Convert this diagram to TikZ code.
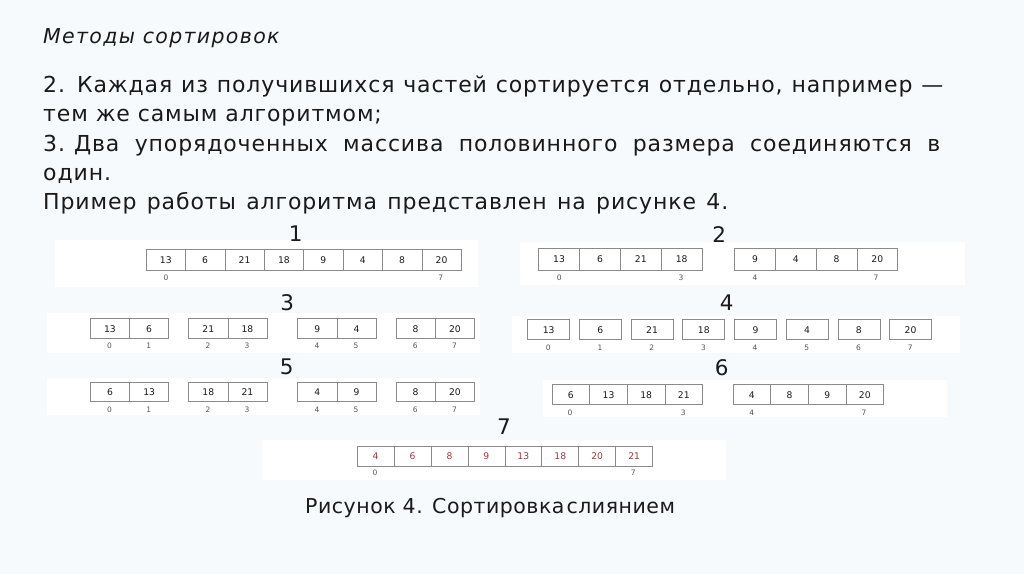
\documentclass[tikz,border=0pt]{standalone}
\usepackage{fontspec}
\setmainfont{DejaVu Sans}
\newfontfamily\bodyfont[LetterSpace=4.0]{DejaVu Sans}
\newfontfamily\titlefont[LetterSpace=6.5]{DejaVu Sans Oblique}
\newfontfamily\capfont[LetterSpace=2.5]{DejaVu Sans}
\definecolor{bg}{HTML}{F7FAFC}
\definecolor{cellgray}{HTML}{8A8A8A}
\definecolor{idxgray}{HTML}{555555}
\definecolor{redval}{HTML}{A8333F}
\definecolor{txt}{HTML}{1A1A1A}
\begin{document}
\begin{tikzpicture}[x=1pt,y=-1pt,
  cellbox/.style={draw=cellgray, line width=0.7pt, inner sep=0pt, anchor=north west,
    fill=white, text=txt, font=\fontsize{9.2}{10}\selectfont},
  idx/.style={font=\fontsize{7.5}{8}\selectfont, text=idxgray, inner sep=0pt, anchor=base},
  panel/.style={fill=white, draw=none},
  steplabel/.style={font=\fontsize{21.5}{24}\selectfont, text=txt, inner sep=0pt, anchor=base},
  bodyline/.style={font=\bodyfont\fontsize{22}{26}\selectfont, text=txt, inner sep=0pt, anchor=base west}]
\useasboundingbox (0,0) rectangle (1024,574);
\fill[bg] (0,0) rectangle (1024,574);

% text
\node[bodyline, font=\titlefont\fontsize{20.5}{24}\selectfont] (title) at (43,43.3) {Методы сортировок};
\node[bodyline] (l1) at (43,92.7) {\makebox[900pt][s]{2.\kern12pt Каждая из получившихся частей сортируется отдельно, например —}};
\node[bodyline] (l2) at (43,121.5) {тем же самым алгоритмом;};
\node[bodyline] (l3) at (43,151.5) {\makebox[897pt][s]{3.\kern9pt Два упорядоченных массива половинного размера соединяются в}};
\node[bodyline] (l4) at (43,180) {один.};
\node[bodyline] (l5) at (43,209.3) {\makebox[685pt][s]{Пример работы алгоритма представлен на рисунке 4.}};

% panels
\fill[panel] (55,240) rectangle (478,287);
\fill[panel] (520,241.7) rectangle (965,285);
\fill[panel] (46.7,312.7) rectangle (480,353);
\fill[panel] (512,316) rectangle (960,353.3);
\fill[panel] (46.7,378) rectangle (480,415);
\fill[panel] (543,380) rectangle (947,416.7);
\fill[panel] (261.7,440) rectangle (726,480);

% step labels
\node[steplabel] (s1) at (295.7,241.7) {1};
\node[steplabel] (s2) at (719.3,242.5) {2};
\node[steplabel] (s3) at (287.3,310) {3};
\node[steplabel] (s4) at (726.7,310) {4};
\node[steplabel] (s5) at (286.7,374) {5};
\node[steplabel] (s6) at (721.7,375.5) {6};
\node[steplabel] (s7) at (504,434) {7};

% row 1
\foreach \v [count=\i from 0] in {13,6,21,18,9,4,8,20}
  \node[cellbox, minimum width=39.4pt, minimum height=21pt] (a\i) at (145.7+\i*39.4,249.3) {\v};
\node[idx] (a1i0) at (166,280) {0};
\node[idx] (a1i7) at (440.7,280) {7};

% row 2
\foreach \v [count=\i from 0] in {13,6,21,18}
  \node[cellbox, minimum width=40.85pt, minimum height=22pt] (b\i) at (538.3+\i*40.85,248) {\v};
\foreach \v [count=\i from 0] in {9,4,8,20}
  \node[cellbox, minimum width=40.75pt, minimum height=22pt] (bb\i) at (734.3+\i*40.75,248) {\v};
\node[idx] (b2i0) at (559.3,280.3) {0};
\node[idx] (b2i3) at (681,280.3) {3};
\node[idx] (b2i4) at (755,280.3) {4};
\node[idx] (b2i7) at (876,280.3) {7};

% row 3
\foreach \x/\p/\q/\k [count=\j from 0] in {90/13/6/0, 188.3/21/18/2, 297.3/9/4/4, 395.7/8/20/6}{
  \node[cellbox, minimum width=39.2pt, minimum height=20pt] (c\j a) at (\x,318.3) {\p};
  \node[cellbox, minimum width=39.2pt, minimum height=20pt] (c\j b) at (\x+39.2,318.3) {\q};
  \pgfmathtruncatemacro{\kk}{\k+1}
  \node[idx] (c\j ia) at (\x+19.6,348.7) {\k};
  \node[idx] (c\j ib) at (\x+58.8,348.7) {\kk};
}

% row 4
\foreach \v [count=\i from 0] in {13,6,21,18,9,4,8,20}{
  \node[cellbox, minimum width=42pt, minimum height=20pt] (d\i) at (527.3+\i*51.7,319.3) {\v};
  \node[idx] (d\i i) at (548.3+\i*51.7,350.3) {\i};
}

% row 5
\foreach \x/\p/\q/\k [count=\j from 0] in {90/6/13/0, 188.3/18/21/2, 297.3/4/9/4, 395.7/8/20/6}{
  \node[cellbox, minimum width=39.2pt, minimum height=19.3pt] (e\j a) at (\x,381.7) {\p};
  \node[cellbox, minimum width=39.2pt, minimum height=19.3pt] (e\j b) at (\x+39.2,381.7) {\q};
  \pgfmathtruncatemacro{\kk}{\k+1}
  \node[idx] (e\j ia) at (\x+19.6,412) {\k};
  \node[idx] (e\j ib) at (\x+58.8,412) {\kk};
}

% row 6
\foreach \v [count=\i from 0] in {6,13,18,21}
  \node[cellbox, minimum width=37.65pt, minimum height=20pt] (f\i) at (551.7+\i*37.65,384.3) {\v};
\foreach \v [count=\i from 0] in {4,8,9,20}
  \node[cellbox, minimum width=37.65pt, minimum height=20pt] (ff\i) at (732.7+\i*37.65,384.3) {\v};
\node[idx] (f6i0) at (570,415.3) {0};
\node[idx] (f6i3) at (683.3,415.3) {3};
\node[idx] (f6i4) at (751.7,415.3) {4};
\node[idx] (f6i7) at (864,415.3) {7};

% row 7
\foreach \v [count=\i from 0] in {4,6,8,9,13,18,20,21}
  \node[cellbox, text=redval, minimum width=36.95pt, minimum height=19.7pt] (g\i) at (356.7+\i*36.95,446) {\v};
\node[idx] (g7i0) at (375,475.7) {0};
\node[idx] (g7i7) at (633.3,475.7) {7};

% caption
\node[bodyline, font=\capfont\fontsize{20.5}{24}\selectfont] (cap) at (305,513) {Рисунок 4. Сортировка\hspace{0.1em}слиянием};
\end{tikzpicture}
\end{document}
